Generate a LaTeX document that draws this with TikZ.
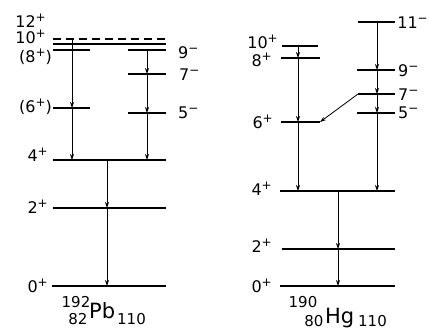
\documentclass[tikz,border=0pt]{standalone}
\usepackage{fontspec}
\setmainfont{DejaVu Sans}
\usetikzlibrary{arrows.meta}
\newcommand\sgn[1]{\raisebox{5.5pt}{\fontsize{12}{12}\selectfont#1}}
\begin{document}
\begin{tikzpicture}[x=1pt,y=-1pt,
 lev/.style={line width=1.4pt},
 dlev/.style={line width=1.4pt,dash pattern=on 8pt off 5pt},
 tr/.style={line width=0.8pt,-{Stealth[length=6pt,width=4pt]}},
 lab/.style={inner sep=0pt,font=\fontsize{16}{16}\selectfont},
 labl/.style={lab,anchor=base east},
 labr/.style={lab,anchor=base west},
 iso/.style={inner sep=0pt,font=\fontsize{15}{15}\selectfont},
 elem/.style={inner sep=0pt,anchor=base west,font=\fontsize{21}{21}\selectfont}]
\useasboundingbox (0,0) rectangle (429,330);
% ---------------- 192Pb ----------------
\coordinate (pb0a) at (52,286);  \coordinate (pb0b) at (166,286);
\coordinate (pb2a) at (53,208);  \coordinate (pb2b) at (166,208);
\coordinate (pb4a) at (53,160);  \coordinate (pb4b) at (166,160);
\coordinate (pb6a) at (53,108);  \coordinate (pb6b) at (90,108);
\coordinate (pb8a) at (53,50);   \coordinate (pb8b) at (90,50);
\coordinate (pb10a) at (53,44);  \coordinate (pb10b) at (166,44);
\coordinate (pb12a) at (53,39);  \coordinate (pb12b) at (166,39);
\coordinate (pb9a) at (128,50);  \coordinate (pb9b) at (166,50);
\coordinate (pb7a) at (128,74);  \coordinate (pb7b) at (166,74);
\coordinate (pb5a) at (128,113); \coordinate (pb5b) at (166,113);
\foreach \l in {0,2,4,6,8,10,9,7,5} \draw[lev] (pb\l a) -- (pb\l b);
\draw[dlev] (pb12a) -- (pb12b);
\coordinate (pbL) at (72,0); \coordinate (pbR) at (147,0); \coordinate (pbC) at (107,0);
\draw[tr] (pbL |- pb12a) -- (pbL |- pb6a);
\draw[tr] (pbL |- pb6a) -- (pbL |- pb4a);
\draw[tr] (pbR |- pb9a) -- (pbR |- pb7a);
\draw[tr] (pbR |- pb7a) -- (pbR |- pb5a);
\draw[tr] (pbR |- pb5a) -- (pbR |- pb4a);
\draw[tr] (pbC |- pb4a) -- (pbC |- pb2a);
\draw[tr] (pbC |- pb2a) -- (pbC |- pb0a);
\node[labl] (lp12) at (46,27) {12\sgn{+}};
\node[labl] (lp10) at (46,43) {10\sgn{+}};
\node[labl] (lp8) at (52,62) {(8\sgn{+})};
\node[labl] (lp6) at (52,112) {(6\sgn{+})};
\node[labl] (lp4) at (48,161) {4\sgn{+}};
\node[labl] (lp2) at (48,213) {2\sgn{+}};
\node[labl] (lp0) at (48,292) {0\sgn{+}};
\node[labr] (lp9) at (178,58) {9\sgn{−}};
\node[labr] (lp7) at (179,80) {7\sgn{−}};
\node[labr] (lp5) at (178,118) {5\sgn{−}};
\node[iso,anchor=base] (pbA) at (76,307) {192};
\node[iso,anchor=base] (pbZ) at (78,324) {82};
\node[elem] (pbE) at (89,318) {Pb};
\node[iso,anchor=base west] (pbN) at (117,324) {110};
% ---------------- 190Hg ----------------
\coordinate (hg0a) at (280,286);  \coordinate (hg0b) at (395,286);
\coordinate (hg2a) at (282,249);  \coordinate (hg2b) at (395,249);
\coordinate (hg4a) at (280,191);  \coordinate (hg4b) at (395,191);
\coordinate (hg6a) at (281,122);  \coordinate (hg6b) at (320,122);
\coordinate (hg8a) at (281,58);   \coordinate (hg8b) at (320,58);
\coordinate (hg10a) at (282,46);  \coordinate (hg10b) at (318,46);
\coordinate (hg11a) at (358,22);  \coordinate (hg11b) at (395,22);
\coordinate (hg9a) at (357,70);   \coordinate (hg9b) at (395,70);
\coordinate (hg7a) at (358,94);   \coordinate (hg7b) at (395,94);
\coordinate (hg5a) at (357,113);  \coordinate (hg5b) at (395,113);
\foreach \l in {0,2,4,6,8,10,11,9,7,5} \draw[lev] (hg\l a) -- (hg\l b);
\coordinate (hgL) at (298,0); \coordinate (hgR) at (377,0); \coordinate (hgC) at (338,0);
\draw[tr] (hgL |- hg10a) -- (hgL |- hg8a);
\draw[tr] (hgL |- hg8a) -- (hgL |- hg6a);
\draw[tr] (hgL |- hg6a) -- (hgL |- hg4a);
\draw[tr] (hgR |- hg11a) -- (hgR |- hg9a);
\draw[tr] (hgR |- hg9a) -- (hgR |- hg7a);
\draw[tr] (hgR |- hg7a) -- (hgR |- hg5a);
\draw[tr] (hgR |- hg5a) -- (hgR |- hg4a);
\draw[tr] (hg7a) -- (hg6b);
\draw[tr] (hgC |- hg4a) -- (hgC |- hg2a);
\draw[tr] (hgC |- hg2a) -- (hgC |- hg0a);
\node[labl] (lh10) at (278,48) {10\sgn{+}};
\node[labl] (lh8) at (272,66) {8\sgn{+}};
\node[labl] (lh6) at (273,128) {6\sgn{+}};
\node[labl] (lh4) at (272,195) {4\sgn{+}};
\node[labl] (lh2) at (272,252) {2\sgn{+}};
\node[labl] (lh0) at (272,292) {0\sgn{+}};
\node[labl] (lh11) at (428,28) {11\sgn{−}};
\node[labr] (lh9) at (398,76) {9\sgn{−}};
\node[labr] (lh7) at (398,100) {7\sgn{−}};
\node[labr] (lh5) at (398,118) {5\sgn{−}};
\node[iso,anchor=base] (hgA) at (303,307) {190};
\node[iso,anchor=base] (hgZ) at (314,326) {80};
\node[elem] (hgE) at (325,323) {Hg};
\node[iso,anchor=base west] (hgN) at (358,326) {110};
\end{tikzpicture}
\end{document}
